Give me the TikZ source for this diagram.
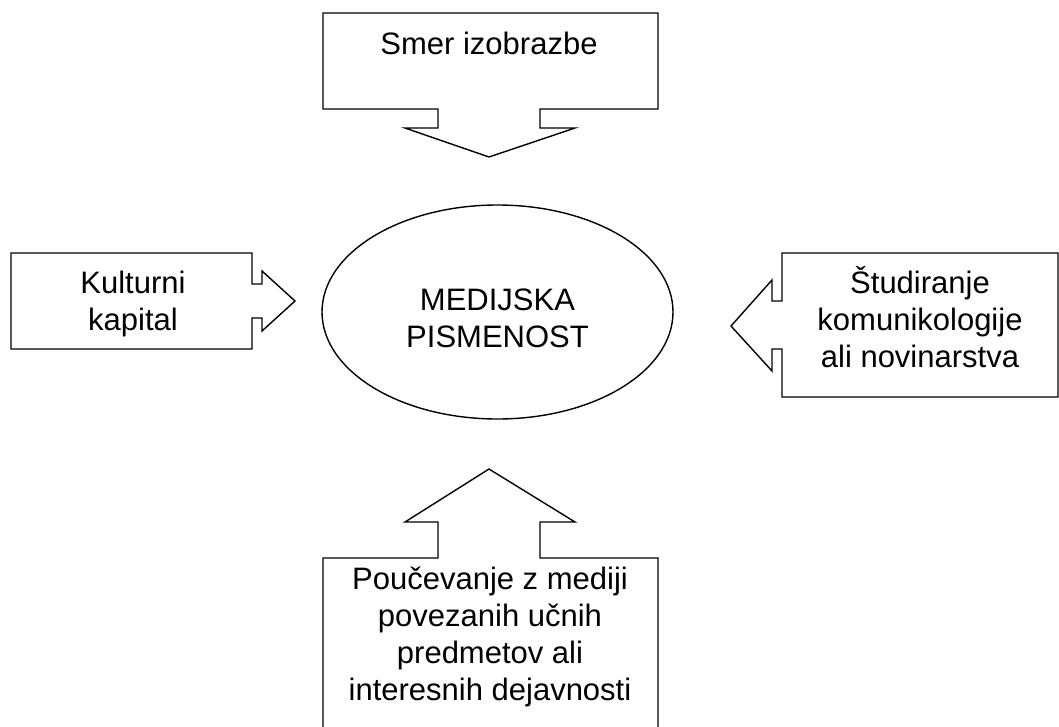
\documentclass[tikz,border=0pt]{standalone}
\usepackage{fontspec}
\setmainfont{Liberation Sans}
\usetikzlibrary{shapes.geometric}
\begin{document}
\begin{tikzpicture}[x=1pt,y=-1pt,
  shapeline/.style={draw=black, line width=1.4pt, line join=miter, fill=white},
  lbl/.style={font=\fontsize{31pt}{37pt}\selectfont, inner sep=0pt, align=center, anchor=base}]
\useasboundingbox (0,0) rectangle (1059,726);
\clip (0,0) rectangle (1059,726);
% top callout
\draw[shapeline] (323,13) -- (658,13) -- (658,109) -- (540,109) -- (540,128) -- (575,128)
  -- (489,157) -- (405,128) -- (438,128) -- (438,109) -- (323,109) -- cycle;
% left callout
\draw[shapeline] (11,253) -- (252,253) -- (252,284) -- (262,284) -- (262,271) -- (295,301)
  -- (262,331) -- (262,318) -- (252,318) -- (252,349) -- (11,349) -- cycle;
% right callout
\draw[shapeline] (782,253) -- (1058,253) -- (1058,397) -- (782,397) -- (782,349) -- (772,349)
  -- (772,371) -- (731,326) -- (772,280) -- (772,301) -- (782,301) -- cycle;
% bottom callout
\draw[shapeline] (489,469) -- (575,522) -- (540,522) -- (540,558) -- (658,558) -- (658,740)
  -- (323,740) -- (323,558) -- (438,558) -- (438,522) -- (405,522) -- cycle;
% centre ellipse
\node[ellipse, draw=black, line width=1.4pt, minimum width=351pt, minimum height=214pt, inner sep=0pt] (ml) at (497.5,312) {};
% labels (base anchor = baseline of last line)
\node[lbl] (smer) at (489,54) {Smer izobrazbe};
\node[lbl] (kult) at (133,330) {Kulturni\\kapital};
\node[lbl] (stud) at (920,367) {Študiranje\\komunikologije\\ali novinarstva};
\node[lbl] (medp) at (497.5,347) {MEDIJSKA\\PISMENOST};
\node[lbl] (pouc) at (490,700) {Poučevanje z mediji\\povezanih učnih\\predmetov ali\\interesnih dejavnosti};
\end{tikzpicture}
\end{document}
